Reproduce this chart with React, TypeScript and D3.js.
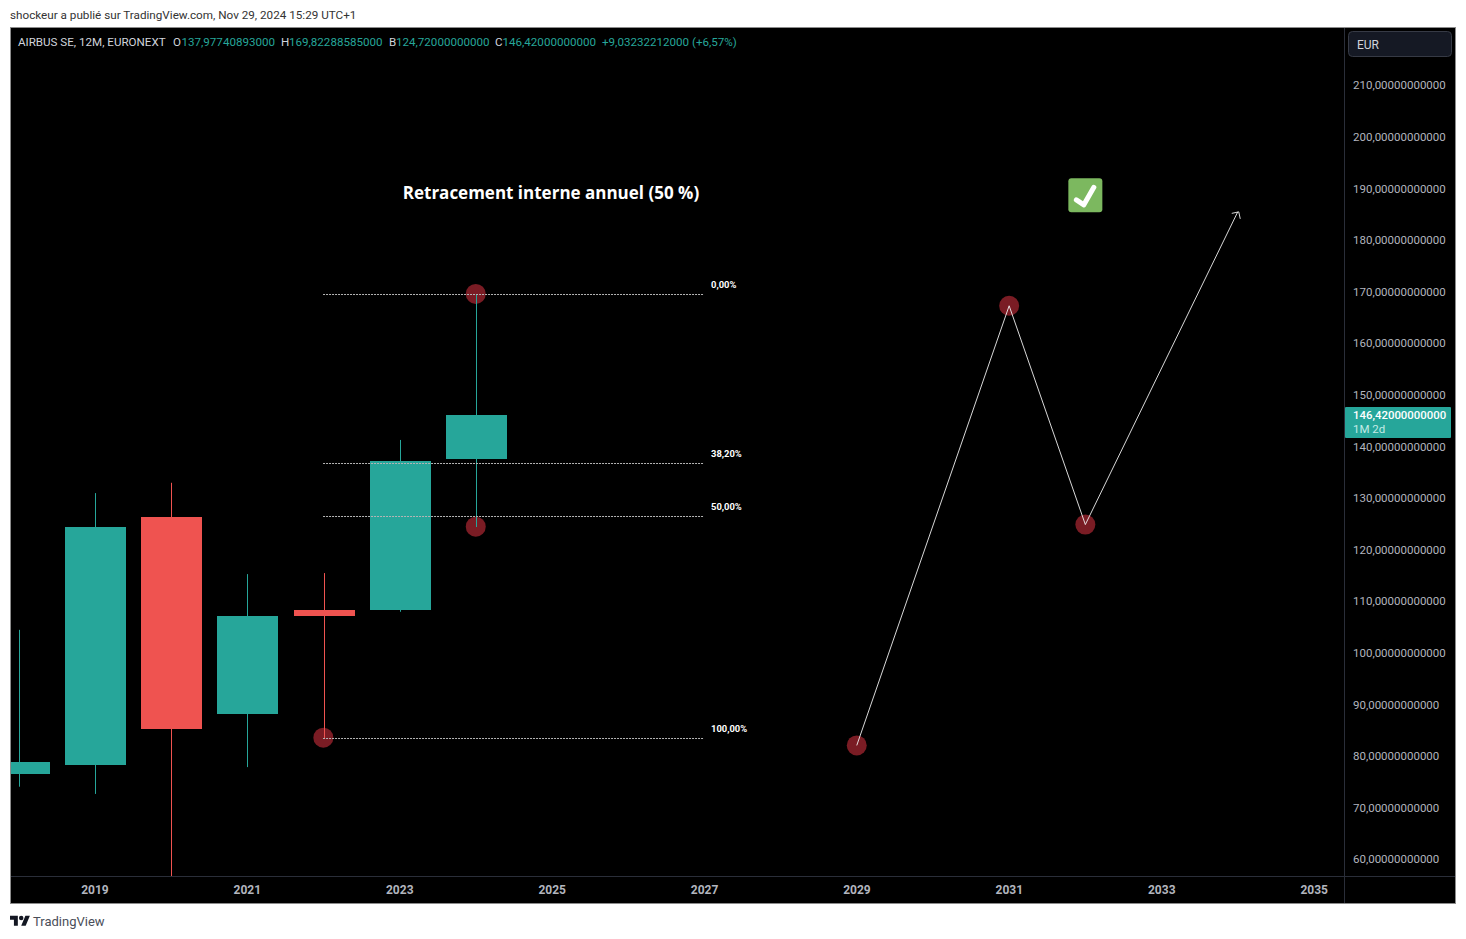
import * as d3 from "d3";
import { useEffect, useRef } from "react";

const years = [2018, 2019, 2020, 2021, 2022, 2023, 2024];
const opens = [76.9, 78.6, 126.7, 88.5, 108.7, 108.7, 137.98];
const highs = [104.8, 131.3, 133.3, 115.6, 115.8, 141.6, 169.82];
const lows = [74.4, 73.0, 47.7, 78.2, 83.8, 108.3, 124.72];
const closes = [79.2, 124.7, 85.6, 107.5, 107.5, 137.5, 146.42];

const priceTicks = [60, 70, 80, 90, 100, 110, 120, 130, 140, 150, 160, 170, 180, 190, 200, 210];
const yearTicks = [2019, 2021, 2023, 2025, 2027, 2029, 2031, 2033, 2035];

const fibLabels = ["0,00%", "38,20%", "50,00%", "100,00%"];
const fibPrices = [169.82, 137.1, 126.8, 83.8];

const pivotYears = [2024, 2024, 2022, 2029, 2031, 2032];
const pivotPrices = [169.9, 124.8, 83.9, 82.4, 167.6, 125.2];

const pathYears = [2029, 2031, 2032, 2034];
const pathPrices = [82.4, 167.6, 125.2, 185.8];

const legendParts = [
  { text: "AIRBUS SE, 12M, EURONEXT", left: 18, up: false },
  { text: "O", left: 173, up: false },
  { text: "137,97740893000", left: 181.5, up: true },
  { text: "H", left: 281, up: false },
  { text: "169,82288585000", left: 289, up: true },
  { text: "B", left: 389, up: false },
  { text: "124,72000000000", left: 396, up: true },
  { text: "C", left: 495, up: false },
  { text: "146,42000000000", left: 502.5, up: true },
  { text: "+9,03232212000 (+6,57%)", left: 602, up: true },
];

const UP = "#26a69a";
const DOWN = "#ef5350";
const TEXT = "#b2b5be";
const FONT = "Roboto, sans-serif";

export default function App() {
  const svgRef = useRef<SVGSVGElement>(null);

  useEffect(() => {
    if (!svgRef.current) return;
    const svg = d3.select(svgRef.current);
    svg.selectAll("*").remove();

    const x = d3.scaleLinear().domain([2019, 2035]).range([95.45, 1314.65]);
    const y = d3.scaleLinear().domain([60, 210]).range([861, 87]);
    const bodyWidth = 61;
    // drawings are anchored slightly left of the candle column
    const drawX = (year: number) => x(year) - 0.7;

    // Page header and footer
    svg
      .append("text")
      .attr("x", 10)
      .attr("y", 19)
      .attr("font-size", 11.7)
      .attr("fill", "#333")
      .text("shockeur a publié sur TradingView.com, Nov 29, 2024 15:29 UTC+1");

    const logo = svg.append("g").attr("transform", "translate(10,913.5) scale(0.56)").attr("fill", "#131722");
    logo.append("path").attr("d", "M14 22H7V11H0V4h14v18zM28 22h-8l7.5-18h8L28 22z");
    logo.append("circle").attr("cx", 20).attr("cy", 8).attr("r", 4);
    svg
      .append("text")
      .attr("x", 33)
      .attr("y", 926)
      .attr("font-size", 13)
      .attr("fill", "#4a4e59")
      .text("TradingView");

    // Chart frame
    svg
      .append("rect")
      .attr("x", 10.5)
      .attr("y", 27.5)
      .attr("width", 1445)
      .attr("height", 876)
      .attr("fill", "#000")
      .attr("stroke", "#8c8c8c");

    svg
      .append("defs")
      .append("clipPath")
      .attr("id", "pane")
      .append("rect")
      .attr("x", 11)
      .attr("y", 28)
      .attr("width", 1333)
      .attr("height", 848);

    const pane = svg.append("g").attr("clip-path", "url(#pane)");

    // Pivot circles sit under the candles
    pane
      .selectAll(".pivot")
      .data(pivotYears)
      .enter()
      .append("circle")
      .attr("class", "pivot")
      .attr("cx", (d) => drawX(d))
      .attr("cy", (_, i) => y(pivotPrices[i]))
      .attr("r", 10)
      .attr("fill", "#7a1c24");

    // Wicks
    pane
      .selectAll(".wick")
      .data(years)
      .enter()
      .append("rect")
      .attr("class", "wick")
      .attr("x", (d) => Math.floor(x(d)))
      .attr("y", (_, i) => y(highs[i]))
      .attr("width", 1)
      .attr("height", (_, i) => y(lows[i]) - y(highs[i]))
      .attr("fill", (_, i) => (closes[i] >= opens[i] ? UP : DOWN));

    // Bodies
    pane
      .selectAll(".body")
      .data(years)
      .enter()
      .append("rect")
      .attr("class", "body")
      .attr("x", (d) => Math.floor(x(d)) - (bodyWidth - 1) / 2)
      .attr("y", (_, i) => Math.round(y(Math.max(opens[i], closes[i]))))
      .attr("width", bodyWidth)
      .attr("height", (_, i) => Math.max(1, Math.round(Math.abs(y(opens[i]) - y(closes[i])))))
      .attr("fill", (_, i) => (closes[i] >= opens[i] ? UP : DOWN));

    // Fib levels
    pane
      .selectAll(".fib")
      .data(fibPrices)
      .enter()
      .append("line")
      .attr("class", "fib")
      .attr("x1", x(2022) - 1)
      .attr("x2", x(2027) - 1)
      .attr("y1", (d) => Math.floor(y(d)) + 0.5)
      .attr("y2", (d) => Math.floor(y(d)) + 0.5)
      .attr("stroke", "#b5b5b5")
      .attr("stroke-dasharray", "2 1");

    pane
      .selectAll(".fib-label")
      .data(fibPrices)
      .enter()
      .append("text")
      .attr("class", "fib-label")
      .attr("x", x(2027) + 6)
      .attr("y", (d) => Math.floor(y(d)) - 6)
      .attr("font-size", 9.4)
      .attr("font-weight", 700)
      .attr("fill", "#fff")
      .text((_, i) => fibLabels[i]);

    // Projected path with arrow head
    const line = d3
      .line<number>()
      .x((d) => drawX(d))
      .y((_, i) => y(pathPrices[i]));
    pane
      .append("path")
      .attr("d", line(pathYears))
      .attr("fill", "none")
      .attr("stroke", "#f0f0f0")
      .attr("stroke-width", 0.9);

    const tipX = drawX(pathYears[3]) + 1;
    const tipY = y(pathPrices[3]);
    const head = d3.line()([
      [tipX - 7, tipY + 1.5],
      [tipX, tipY],
      [tipX + 1.5, tipY + 7],
    ]);
    pane.append("path").attr("d", head).attr("fill", "none").attr("stroke", "#f0f0f0").attr("stroke-width", 0.9);

    // Title and check mark
    pane
      .append("text")
      .attr("x", x(2024) + 74.5)
      .attr("y", y(189) - 2)
      .attr("text-anchor", "middle")
      .attr("dy", "0.35em")
      .attr("font-family", "'Open Sans', sans-serif")
      .attr("font-size", 17)
      .attr("font-weight", 700)
      .attr("fill", "#fff")
      .text("Retracement interne annuel (50 %)");

    const check = pane.append("g").attr("transform", `translate(${drawX(2032)},${y(189)})`);
    check.append("rect").attr("x", -17).attr("y", -17).attr("width", 34).attr("height", 34).attr("rx", 3).attr("fill", "#7cb85f");
    check
      .append("path")
      .attr("d", "M-9 4.5L-1.5 9.5L8.5 -8")
      .attr("fill", "none")
      .attr("stroke", "#fff")
      .attr("stroke-width", 5)
      .attr("stroke-linecap", "round")
      .attr("stroke-linejoin", "round");

    // Legend row
    svg
      .selectAll(".legend")
      .data(legendParts)
      .enter()
      .append("text")
      .attr("class", "legend")
      .attr("x", (d) => d.left)
      .attr("y", 46)
      .attr("font-size", 11.6)
      .attr("fill", (d) => (d.up ? UP : "#d1d4dc"))
      .text((d) => d.text);

    // Axes
    svg.append("line").attr("x1", 11).attr("x2", 1455).attr("y1", 876.5).attr("y2", 876.5).attr("stroke", "#2a2e39");
    svg.append("line").attr("x1", 1344.5).attr("x2", 1344.5).attr("y1", 28).attr("y2", 903).attr("stroke", "#2a2e39");

    const priceFormat = (v: d3.NumberValue) => d3.format(".11f")(v).replace(".", ",");
    const priceAxis = svg
      .append("g")
      .attr("transform", "translate(1353,-1.7)")
      .call(d3.axisRight(y).tickValues(priceTicks).tickSize(0).tickPadding(0).tickFormat(priceFormat));
    priceAxis.select(".domain").remove();
    priceAxis.selectAll("text").attr("font-size", 11.5).attr("font-family", FONT).attr("fill", TEXT);

    const timeAxis = svg
      .append("g")
      .attr("transform", "translate(-1,885)")
      .call(d3.axisBottom(x).tickValues(yearTicks).tickSize(0).tickPadding(0).tickFormat(d3.format("d")));
    timeAxis.select(".domain").remove();
    timeAxis.selectAll("text").attr("font-size", 12).attr("font-weight", 700).attr("font-family", FONT).attr("fill", TEXT);

    // Currency button and last price tag
    svg
      .append("rect")
      .attr("x", 1348.5)
      .attr("y", 31.5)
      .attr("width", 103)
      .attr("height", 25)
      .attr("rx", 4)
      .attr("fill", "#151924")
      .attr("stroke", "#363a45");
    svg.append("text").attr("x", 1357).attr("y", 49).attr("font-size", 12).attr("fill", "#d1d4dc").text("EUR");

    svg.append("rect").attr("x", 1345).attr("y", 407).attr("width", 106).attr("height", 31).attr("rx", 1).attr("fill", UP);
    svg.append("text").attr("x", 1353).attr("y", 419).attr("font-size", 11.4).attr("font-weight", 500).attr("fill", "#fff").text(priceFormat(closes[6]));
    svg.append("text").attr("x", 1353).attr("y", 433).attr("font-size", 11.5).attr("fill", "#c4ebe6").text("1M 2d");
  }, []);

  return (
    <svg
      ref={svgRef}
      width={1466}
      height={939}
      style={{ position: "fixed", left: 0, top: 0, background: "#fff", fontFamily: FONT }}
    />
  );
}
